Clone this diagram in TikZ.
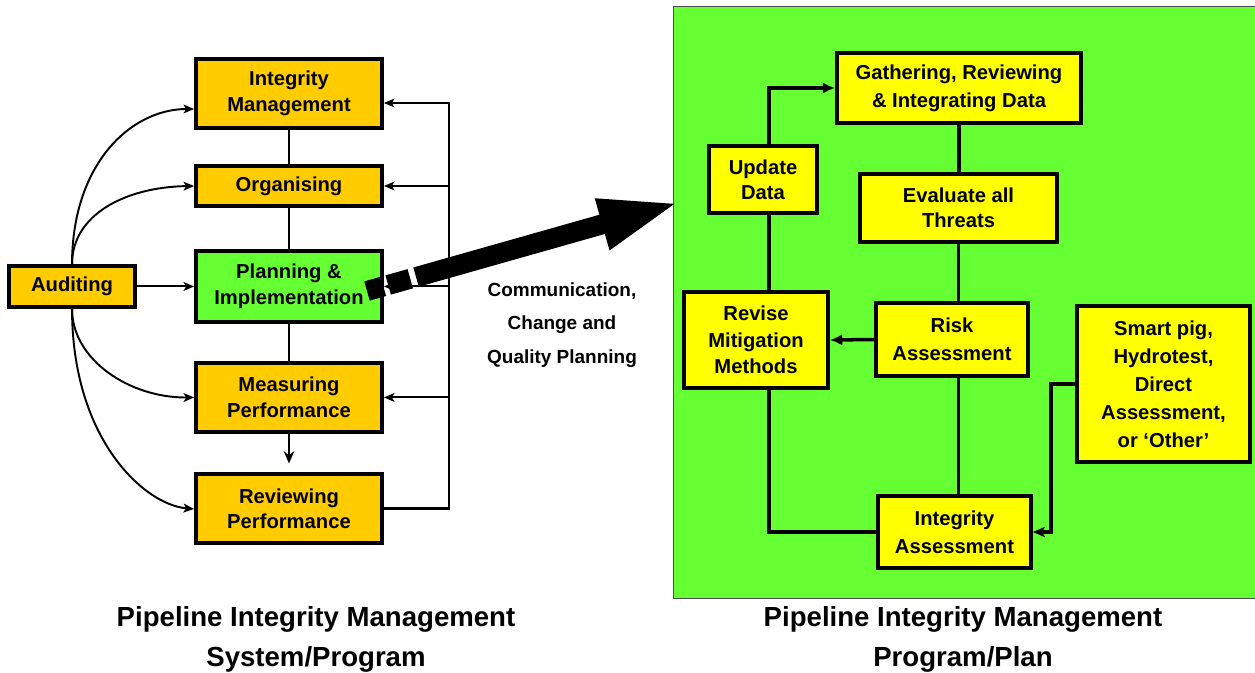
\documentclass[tikz,border=0pt]{standalone}
\usepackage{fontspec}
\setmainfont{Liberation Sans}
\usetikzlibrary{positioning,arrows.meta}
\definecolor{pimgold}{HTML}{FFCC00}
\definecolor{pimgreen}{HTML}{66FF33}
\definecolor{pimyellow}{HTML}{FFFF00}

\begin{document}
\begin{tikzpicture}[x=0.02cm, y=-0.02cm,
  lbox/.style={draw, line width=2.2pt, fill=pimgold, align=center, inner sep=0pt,
    minimum width=3.72cm, minimum height=1.38cm, font=\fontsize{11.5}{14.5}\selectfont\bfseries},
  rbox/.style={draw, line width=2.2pt, fill=pimyellow, align=center, inner sep=0pt,
    font=\fontsize{11.5}{16}\selectfont\bfseries},
  link/.style={line width=1.7pt},
  thin link/.style={line width=1.1pt, -{Stealth[length=6pt,width=5pt,inset=1.5pt]}},
  rlink/.style={line width=2pt, -{Latex[length=7pt,width=6.5pt]}},
  caption/.style={align=center, font=\fontsize{15.7}{22.7}\selectfont\bfseries}]

  \useasboundingbox (0,0) rectangle (1255,673);

  % right-hand panel
  \node[draw=black!70, line width=0.6pt, fill=pimgreen, inner sep=0pt,
        minimum width=11.7cm, minimum height=11.86cm] (panel) at (965.5,302.5) {};

  % management system
  \begin{scope}[on grid, node distance=2cm]
  \node[lbox] (im) at (289,93.5) {Integrity\\Management};
  \node[lbox, minimum height=0.8cm, below=1.85cm of im] (org) {Organising};
  \node[lbox, fill=pimgreen, minimum height=1.42cm, below=2.01cm of org] (plan) {Planning \&\\Implementation};
  \node[lbox, below=2.22cm of plan] (meas) {Measuring\\Performance};
  \node[lbox, below=2.23cm of meas] (rev) {Reviewing\\Performance};
  \node[lbox, minimum width=2.52cm, minimum height=0.82cm, left=4.34cm of plan] (aud) {Auditing};
  \end{scope}

  \coordinate (bus) at (449,300);

  \draw[link] (im) -- (org);
  \draw[link] (org) -- (plan);
  \draw[link] (plan) -- (meas);
  \draw[link, -{Stealth[length=7pt,width=6pt]}, shorten >=0.18cm] (meas) -- (rev);

  \draw[link, -{Stealth[length=6pt,width=5pt,inset=1.5pt]}] (rev.east) -| (bus) |- ([yshift=-0.19cm]im.east);
  \foreach \n in {org,plan,meas}
    \draw[thin link] (bus |- \n.east) -- (\n.east);

  \draw[thin link] (aud.east) -- (plan.west);
  \draw[thin link] (aud.north) .. controls (72,165) and (130,109) .. ([yshift=-0.31cm]im.west);
  \draw[thin link] (aud.north) .. controls (72,215) and (125,187) .. (org.west);
  \draw[thin link] (aud.south) .. controls (72,360) and (130,398) .. (meas.west);
  \draw[thin link] (aud.south) .. controls (72,440) and (145,505) .. (rev.west);

  % integrity plan
  \node[rbox, minimum width=4.88cm, minimum height=1.4cm] (gath) at (959,88) {Gathering, Reviewing\\\& Integrating Data};
  \node[rbox, minimum width=2.16cm, minimum height=1.34cm, font=\fontsize{11.5}{14}\selectfont\bfseries] (upd) at (763,179.5) {Update\\Data};
  \node[rbox, minimum width=3.94cm, minimum height=1.36cm, font=\fontsize{11.5}{14}\selectfont\bfseries] (eval) at (958.5,208) {Evaluate all\\Threats};
  \node[rbox, minimum width=2.88cm, minimum height=1.92cm, font=\fontsize{11.5}{15}\selectfont\bfseries] (revise) at (756,340) {Revise\\Mitigation\\Methods};
  \node[rbox, minimum width=3.04cm, minimum height=1.46cm] (risk) at (952,339.5) {Risk\\Assessment};
  \node[rbox, minimum width=3.06cm, minimum height=1.44cm] (ia) at (954.5,532) {Integrity\\Assessment};
  \node[rbox, minimum width=3.46cm, minimum height=3.12cm] (pig) at (1163.5,384) {Smart pig,\\Hydrotest,\\Direct\\Assessment,\\or `Other'};

  \coordinate (ucol) at ([xshift=0.12cm]upd.south);
  \draw[rlink] (ucol |- upd.north) |- (gath.west);
  \draw[rlink, -] (ucol) -- (ucol |- revise.north);
  \draw[rlink, -] (ucol |- revise.south) |- (ia.west);
  \draw[rlink, -] (gath.south) -- (gath.south |- eval.north);
  \draw[rlink, -] (eval.south) -- (eval.south |- risk.north);
  \draw[rlink, -] (eval.south |- risk.south) -- (eval.south |- ia.north);
  \draw[rlink] (risk.west) -- (revise.east);
  \draw[rlink, -{Stealth[length=7pt,width=6pt,inset=2pt]}] (pig.west) -- ++(-0.48cm,0) |- (ia.east);

  % big arrow
  \coordinate (bigtail) at (367,291);
  \coordinate (bigtip) at (681,202);
  \draw[line width=0.4cm, dash pattern=on 0.34cm off 0.1cm on 0.46cm off 0.12cm on 20cm,
        -{Triangle[length=1.64cm,width=0.94cm]}] (bigtail) -- (bigtip);

  \node[align=center, font=\fontsize{10.8}{19}\selectfont\bfseries] (comm) at (562,325)
    {Communication,\\Change and\\Quality Planning};

  \node[caption] (capl) at (316,639) {Pipeline Integrity Management\\System/Program};
  \node[caption] (capr) at (963,639) {Pipeline Integrity Management\\Program/Plan};
\end{tikzpicture}
\end{document}
